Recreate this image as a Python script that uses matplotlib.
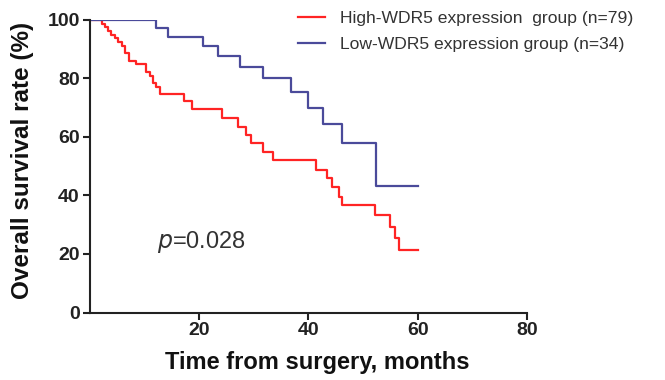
import matplotlib
matplotlib.use('Agg')
import matplotlib.pyplot as plt

plt.rcParams['font.family'] = ['Liberation Sans', 'DejaVu Sans']

# Kaplan-Meier steps (months, % surviving)
high_t = [0, 2.2, 2.8, 3.4, 4.0, 4.6, 5.2, 5.9, 6.5, 7.3, 8.5, 10.4, 11.1, 11.6, 12.1, 12.9,
          17.3, 18.7, 24.2, 27.2, 28.7, 29.6, 31.8, 33.6, 41.4, 43.4, 44.3, 45.7, 46.1,
          52.2, 54.9, 55.8, 56.6, 60]
high_s = [100, 98.7, 97.5, 96.2, 94.9, 93.7, 92.4, 91.1, 88.6, 86.1, 84.8, 82.3, 81.0, 78.5, 77.2, 74.7,
          72.2, 69.6, 66.4, 63.5, 60.7, 57.8, 55.0, 52.2, 48.7, 45.9, 42.8, 39.6, 36.8,
          33.3, 29.3, 25.4, 21.4, 21.4]
low_t = [0, 12.1, 14.4, 20.8, 23.5, 27.5, 31.7, 36.8, 40.0, 42.7, 46.2, 52.4, 60]
low_s = [100, 97.1, 94.2, 91.0, 87.5, 83.8, 80.0, 75.3, 69.8, 64.4, 58.1, 43.2, 43.2]

labels = ['High-WDR5 expression  group (n=79)', 'Low-WDR5 expression group (n=34)']

fig = plt.figure(figsize=(6.65, 3.8), dpi=100)
ax = fig.add_axes([0.1346, 0.1776, 0.658, 0.77])

l1, = ax.step(high_t, high_s, where='post', color='#ff2424', lw=1.6)
l2, = ax.step(low_t, low_s, where='post', color='#4a4a9a', lw=1.6)

ax.set_xlim(0, 80)
ax.set_ylim(0, 100)
ax.set_xticks([20, 40, 60, 80])
ax.set_yticks([0, 20, 40, 60, 80, 100])
ax.spines['right'].set_visible(False)
ax.spines['top'].set_visible(False)
for s in ['left', 'bottom']:
    ax.spines[s].set_linewidth(1.5)
    ax.spines[s].set_color('#222222')
ax.tick_params(width=1.5, length=5, color='#222222', labelsize=14, pad=2)
for lab in ax.get_xticklabels() + ax.get_yticklabels():
    lab.set_fontweight('bold')
    lab.set_color('#222222')

ax.set_xlabel('Time from surgery, months', fontsize=17, fontweight='bold', color='#111111')
ax.set_ylabel('Overall survival rate (%)', fontsize=17.5, fontweight='bold', color='#111111')
ax.xaxis.set_label_coords(0.52, -0.13)
ax.yaxis.set_label_coords(-0.128, 0.52)

ax.text(12.3, 24, r'$p$=0.028', fontsize=17, color='#333333', va='center', ha='left')

fig.legend([l1, l2], labels, loc='upper left', bbox_to_anchor=(0.438, 0.99),
           frameon=False, fontsize=12.6, handlelength=1.5, labelcolor='#333333',
           borderaxespad=0, handletextpad=0.9, labelspacing=0.6)

fig.savefig('out.png', dpi=100)
